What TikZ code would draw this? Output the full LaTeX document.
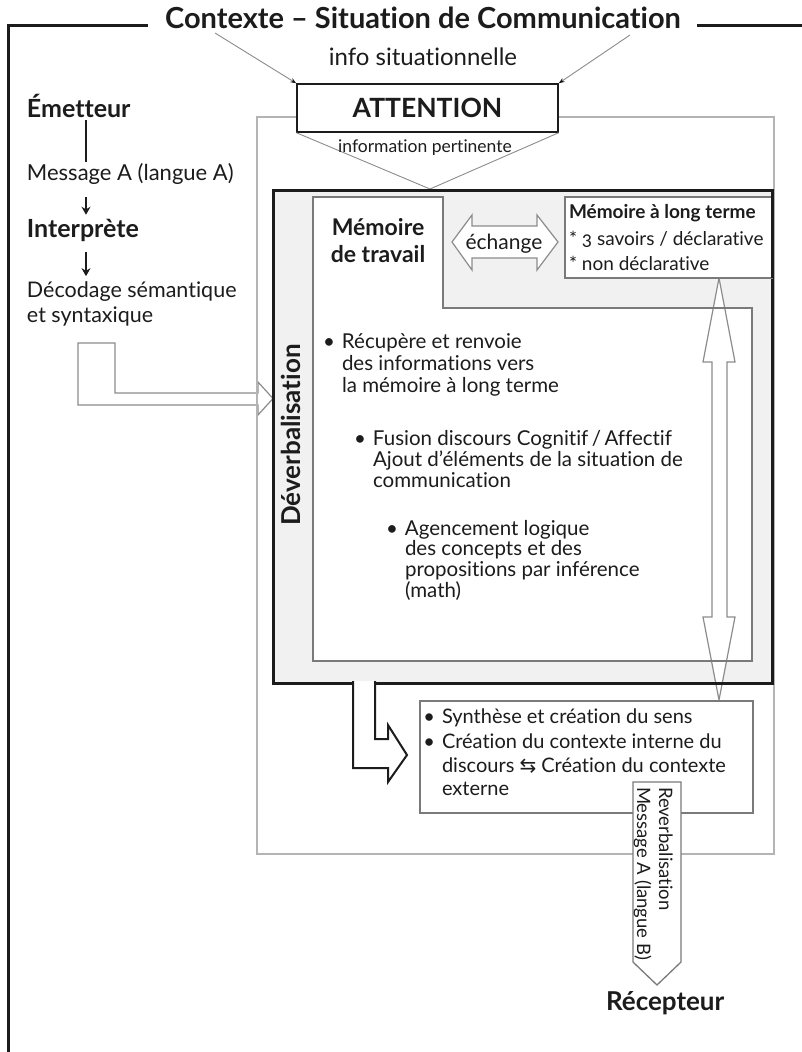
\documentclass[tikz,border=0pt]{standalone}
\usepackage{fontspec}
\setmainfont{Lato}[Ligatures={NoCommon}]
\newfontfamily\symfont{DejaVu Sans}
\usetikzlibrary{arrows.meta}
\definecolor{ink}{HTML}{1C1C1C}
\definecolor{framegray}{HTML}{B4B4B4}
\definecolor{linegray}{HTML}{7A7A7A}
\definecolor{arrowgray}{HTML}{8C8C8C}
\definecolor{panel}{HTML}{F1F1F1}
\newcommand\setfz[1]{\fontsize{#1}{#1}\selectfont}
\newcommand\bul{\makebox[0pt][r]{\textbullet\hspace{7pt}}}
\begin{document}
\begin{tikzpicture}[x=1pt,y=-1pt,
  txt/.style={inner sep=0pt,outer sep=0pt,text=ink},
  reg/.style={txt,anchor=base west,font=\setfz{#1}},
  bld/.style={txt,anchor=base west,font=\bfseries\setfz{#1}},
  gline/.style={draw=arrowgray,line width=0.9pt},
  hollow/.style={draw=arrowgray,line width=1.2pt,fill=white,line join=miter},
  boxline/.style={draw=linegray,line width=1.4pt},
  darr/.style={draw=ink,line width=1.8pt,-{Stealth[length=8pt,width=9pt]}},
  tarr/.style={gline,-{Stealth[length=6pt,width=4.5pt,color=ink]}}]
\useasboundingbox (0,0) rectangle (802,1052);
\fill[white] (0,0) rectangle (802,1052);

% ---- outer context frame
\node[txt,anchor=base,font=\bfseries\setfz{29}] (title) at (423,28) {Contexte – Situation de Communication};
\draw[ink,line width=3pt] (8,1052) -- (8,25) -- (148,25);
\draw[ink,line width=3pt] (697,25) -- (802,25);
\node[txt,anchor=base,font=\setfz{24}] (info) at (423,65) {info situationnelle};

% ---- left hollow bent arrow (into Deverbalisation)
\draw[hollow] (78,343) -- (115,343) -- (115,393) -- (258,393) -- (258,382) -- (273,398.5) -- (258,415) -- (258,405) -- (78,405) -- cycle;

% ---- light gray processing frame
\draw[draw=framegray,line width=1.2pt] (257,117) rectangle (774,854);

% ---- attention
\coordinate (funnel) at (430,189);
\node[draw=ink,line width=1.4pt,fill=white,minimum width=261pt,minimum height=48pt,inner sep=0pt,text=ink,font=\bfseries\setfz{26.5}] (att) at (427.5,108) {ATTENTION};
\coordinate (tl) at (215,33);
\coordinate (tr) at (630,35);
\draw[tarr] (tl) -- (att.north west);
\draw[tarr] (tr) -- (att.north east);
\draw[gline] (att.south west) -- (funnel) -- (att.south east);
\node[txt,anchor=base,font=\setfz{17.5}] (pert) at (425,152) {information pertinente};

% ---- thick Deverbalisation box (fill)
\fill[panel] (273,190) rectangle (772,683);
% inner working-memory area (fill)
\fill[white] (313,197) -- (443,197) -- (443,308) -- (752,308) -- (752,661) -- (313,661) -- cycle;
% vertical double arrow
\draw[hollow] (719,278) -- (735,362) -- (727,362) -- (727,617) -- (735,617) -- (719,700) -- (703,617) -- (712,617) -- (712,362) -- (703,362) -- cycle;
% inner outline
\draw[boxline,line join=miter] (313,197) -- (443,197) -- (443,308) -- (752,308) -- (752,661) -- (313,661) -- cycle;
% thick outline
\draw[ink,line width=3pt] (273,190) rectangle (772,683);
% long-term memory box
\draw[boxline,fill=white] (565,197) rectangle (772,278);
\draw[ink,line width=3pt] (772,190) -- (772,278);
% exchange arrow
\draw[hollow] (452,242) -- (472,215) -- (472,226) -- (537,226) -- (537,215) -- (558,242) -- (537,270) -- (537,258) -- (472,258) -- (472,270) -- cycle;

% ---- synthesis box
\draw[boxline,fill=white] (420,701) rectangle (753,813);
% black bent arrow out of the box
\draw[ink,line width=2pt,fill=white,line join=miter] (353,681) -- (353,768) -- (388,768) -- (388,782) -- (407,755) -- (388,725) -- (388,739) -- (375,739) -- (375,681);

% ---- reverbalisation arrow
\draw[draw=linegray,line width=1.3pt,fill=white,line join=miter] (633,782) -- (681,782) -- (681,962) -- (657,985) -- (633,962) -- cycle;
\node[txt,anchor=base west,rotate=-90,font=\setfz{18.5}] (rev1) at (659,787) {Reverbalisation};
\node[txt,anchor=base west,rotate=-90,font=\setfz{18.5}] (rev2) at (637,787) {Message A (langue B)};

% ---- left column
\coordinate (cx) at (86,0);
\node[bld=25] (emet) at (27,117) {Émetteur};
\node[reg=22] (msgA) at (27,180) {Message A (langue A)};
\node[bld=25] (interp) at (27,237) {Interprète};
\node[reg=21.5] (deco1) at (27,297) {Décodage sémantique};
\node[reg=21.5] (deco2) at (27,322) {et syntaxique};
\draw[ink,line width=1.3pt,shorten <=3pt,shorten >=1pt] (emet.south -| cx) -- (msgA.north -| cx);
\draw[darr,shorten <=13pt,shorten >=4pt] (msgA.south -| cx) -- (interp.north -| cx);
\draw[darr,shorten <=11pt,shorten >=5pt] (interp.south -| cx) -- (deco1.north -| cx);

% ---- labels in the central area
\node[txt,font=\bfseries\setfz{26},rotate=90] (dever) at (291,435) {Déverbalisation};
\node[txt,anchor=base,font=\bfseries\setfz{23}] (mt1) at (378,235) {Mémoire};
\node[txt,anchor=base,font=\bfseries\setfz{23}] (mt2) at (378,262) {de travail};
\node[txt,anchor=base,font=\setfz{21}] (ech) at (504,249) {échange};
\node[bld=19] (ltm1) at (569,218) {Mémoire à long terme};
\node[reg=19] (ltm2) at (569,245) {* {\addfontfeature{Numbers=OldStyle}3} savoirs / déclarative};
\node[reg=19] (ltm3) at (569,270) {* non déclarative};

\node[reg=20.5] (b1a) at (342,348) {\bul Récupère et renvoie};
\node[reg=20.5] (b1b) at (342,370) {des informations vers};
\node[reg=20.5] (b1c) at (342,392) {la mémoire à long terme};
\node[reg=20.5] (b2a) at (373,445) {\bul Fusion discours Cognitif\,/\,Affectif};
\node[reg=20.5] (b2b) at (373,466) {Ajout d’éléments de la situation de};
\node[reg=20.5] (b2c) at (373,487) {communication};
\node[reg=20.5] (b3a) at (405,535) {\bul Agencement logique};
\node[reg=20.5] (b3b) at (405,555) {des concepts et des};
\node[reg=20.5] (b3c) at (405,576) {propositions par inférence};
\node[reg=20.5] (b3d) at (405,597) {(math)};

\node[reg=20] (c1) at (442,723) {\bul Synthèse et création du sens};
\node[reg=20] (c2) at (442,748) {\bul Création du contexte interne du};
\node[reg=20] (c3) at (442,772) {discours {\symfont ⇆} Création du contexte};
\node[reg=20] (c4) at (442,795) {externe};

\node[bld=26] (recep) at (606,1010) {Récepteur};
\end{tikzpicture}
\end{document}
